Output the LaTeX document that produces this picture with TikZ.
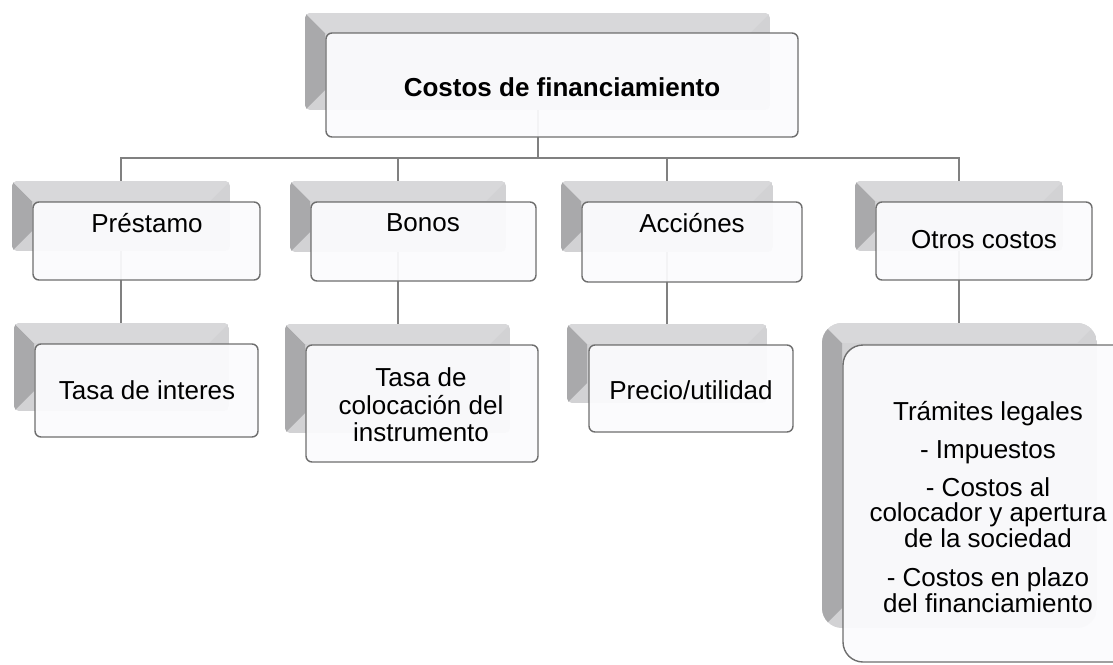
\documentclass[tikz,border=0pt]{standalone}
\usepackage{fontspec}
\setmainfont{Liberation Sans}
\usetikzlibrary{fit}
\definecolor{linegray}{HTML}{808080}
\definecolor{bordergray}{HTML}{6E6E6E}
\definecolor{frontfill}{HTML}{FBFBFD}
\definecolor{facetop}{HTML}{D8D8DA}
\definecolor{faceleft}{HTML}{A9A9AB}
\definecolor{facemid}{HTML}{D2D2D4}
\newcommand\backface[2]{%
  \begin{scope}
    \clip[rounded corners=#2] (#1.north west) rectangle (#1.south east);
    \fill[facemid] (#1.north west) rectangle (#1.south east);
    \fill[faceleft] (#1.north west) -- ([shift={(20,20)}]#1.north west) -- ([shift={(20,-20)}]#1.south west) -- (#1.south west) -- cycle;
    \fill[facetop] (#1.north west) -- (#1.north east) -- ([shift={(-20,20)}]#1.north east) -- ([shift={(20,20)}]#1.north west) -- cycle;
  \end{scope}}
\tikzset{
  conn/.style={draw=linegray, line width=2pt},
  backbox/.style={inner sep=0pt, outer sep=0pt},
  frontbox/.style={draw=bordergray, line width=1.4pt, fill=frontfill, fill opacity=0.94, rounded corners=6pt, inner sep=0pt, outer sep=0pt},
  lbl/.style={font=\fontsize{26}{27.5}\selectfont, align=center, inner sep=0pt, text=black},
}
\begin{document}
\begin{tikzpicture}[x=1pt,y=-1pt]
\useasboundingbox (0,0) rectangle (1113,664);
\clip (0,0) rectangle (1113,664);

% back boxes
\node[backbox, fit={(305,13) (770,110)}] (b0) {};
\node[backbox, fit={(12,181) (230,251)}] (b1) {};
\node[backbox, fit={(290,181) (506,252)}] (b2) {};
\node[backbox, fit={(561,181) (773,252)}] (b3) {};
\node[backbox, fit={(855,181) (1063,251)}] (b4) {};
\node[backbox, fit={(14,323) (229,411)}] (c1) {};
\node[backbox, fit={(285,324) (510,433)}] (c2) {};
\node[backbox, fit={(567,324) (767,403)}] (c3) {};
\node[backbox, fit={(822,323) (1097,628)}] (c4) {};

% connectors
\coordinate (hb) at (537,158);
\draw[conn] (b0.south) -- (b0.south |- hb);
\draw[conn] (b1.north) -- (b1.north |- hb) -- (b4.north |- hb) -- (b4.north);
\draw[conn] (b2.north) -- (b2.north |- hb);
\draw[conn] (b3.north) -- (b3.north |- hb);
\draw[conn] (b1.south) -- (b1.south |- c1.north);
\draw[conn] (b2.south) -- (b2.south |- c2.north);
\draw[conn] (b3.south) -- (b3.south |- c3.north);
\draw[conn] (b4.south) -- (b4.south |- c4.north);

% back faces
\backface{b0}{5pt}
\backface{b1}{5pt}
\backface{b2}{5pt}
\backface{b3}{5pt}
\backface{b4}{5pt}
\backface{c1}{5pt}
\backface{c2}{5pt}
\backface{c3}{5pt}
\backface{c4}{20pt}

% front boxes
\node[frontbox, fit={(326,33) (798,137)}] (f0) {};
\node[frontbox, fit={(33,202) (260,280)}] (f1) {};
\node[frontbox, fit={(311,202) (536,281)}] (f2) {};
\node[frontbox, fit={(582,202) (802,282)}] (f3) {};
\node[frontbox, fit={(876,202) (1092,280)}] (f4) {};
\node[frontbox, fit={(35,344) (258,437)}] (g1) {};
\node[frontbox, fit={(306,345) (538,462)}] (g2) {};
\node[frontbox, fit={(589,345) (793,432)}] (g3) {};
\node[frontbox, rounded corners=20pt, fit={(843,345) (1133,662)}] (g4) {};

% labels
\node[lbl, font=\fontsize{26}{27.5}\selectfont\bfseries] (t0) at (562,87) {Costos de financiamiento};
\node[lbl] (t1) at (147,223) {Préstamo};
\node[lbl] (t2) at (423,223) {Bonos};
\node[lbl] (t3) at (692,223) {Acciónes};
\node[lbl] (t4) at (984,240) {Otros costos};
\node[lbl] (u1) at (147,390) {Tasa de interes};
\node[lbl] (u2) at (421,405) {Tasa de\\colocación del\\instrumento};
\node[lbl] (u3) at (691,390) {Precio/utilidad};
\node[lbl, font=\fontsize{26}{25.5}\selectfont] (u4) at (988,507) {Trámites legales\\[12.5pt]- Impuestos\\[12.5pt]- Costos al\\colocador y apertura\\de la sociedad\\[14pt]- Costos en plazo\\del financiamiento};
\end{tikzpicture}
\end{document}
